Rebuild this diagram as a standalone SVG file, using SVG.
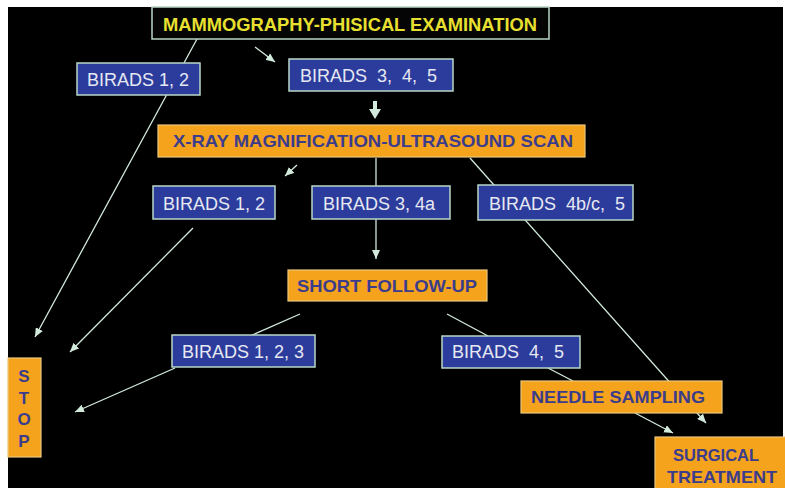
<svg xmlns="http://www.w3.org/2000/svg" width="785" height="488" viewBox="0 0 785 488">
  <style>
    .blue { fill: #2c3c9c; stroke: #b9d6c6; stroke-width: 1.5; }
    .orange { fill: #f5a21c; stroke: #e9c77a; stroke-width: 1.2; }
    .title { fill: #050505; stroke: #b9d6c6; stroke-width: 1.5; }
    .bt { font-family: "Liberation Sans", Arial, sans-serif; font-size: 18px; fill: #e6e8f2; }
    .ot { font-family: "Liberation Sans", Arial, sans-serif; font-size: 17px; font-weight: bold; fill: #3b3d8c; }
    .tt { font-family: "Liberation Sans", Arial, sans-serif; font-size: 18px; font-weight: bold; fill: #e8e030; }
    .edge { fill: none; stroke: #d2eadc; stroke-width: 1.3; marker-end: url(#ah); }
    .plain { fill: none; stroke: #d2eadc; stroke-width: 1.3; }
  </style>
  <defs>
    <marker id="ah" markerUnits="userSpaceOnUse" markerWidth="10" markerHeight="8" refX="9" refY="4" orient="auto">
      <path d="M0,0 L9,4 L0,8 Z" fill="#d2eadc"/>
    </marker>
  </defs>

  <!-- page -->
  <rect x="0" y="0" width="785" height="488" fill="#ffffff"/>
  <rect x="8" y="7" width="775" height="481" fill="#000000"/>

  <!-- connectors -->
  <g id="connectors">
    <line class="edge" x1="197" y1="39" x2="35" y2="337"/>
    <line class="edge" x1="255" y1="47" x2="275" y2="62"/>
    <path d="M373,101 L377,101 L377,109 L381,109 L375,119 L369,109 L373,109 Z" fill="#d2eadc"/>
    <line class="edge" x1="297" y1="165" x2="285" y2="176"/>
    <line class="plain" x1="376" y1="158" x2="376" y2="186"/>
    <line class="edge" x1="470" y1="158" x2="706" y2="423"/>
    <line class="edge" x1="193" y1="228" x2="70" y2="352"/>
    <line class="edge" x1="376" y1="219" x2="376" y2="259"/>
    <line class="plain" x1="300" y1="314" x2="250" y2="336"/>
    <line class="edge" x1="175" y1="368" x2="75" y2="412"/>
    <line class="plain" x1="447" y1="314" x2="488" y2="336"/>
    <line class="plain" x1="548" y1="368" x2="573" y2="381"/>
    <line class="edge" x1="635" y1="413" x2="673" y2="433"/>
  </g>

  <!-- nodes -->
  <g id="exam">
    <rect class="title" x="152" y="7" width="397" height="32"/>
    <text class="tt" x="163" y="31" textLength="374" lengthAdjust="spacingAndGlyphs">MAMMOGRAPHY-PHISICAL EXAMINATION</text>
  </g>
  <g id="birads-12-top">
    <rect class="blue" x="77" y="63" width="123" height="32"/>
    <text class="bt" x="87" y="86">BIRADS 1, 2</text>
  </g>
  <g id="birads-345">
    <rect class="blue" x="289" y="59" width="164" height="32"/>
    <text class="bt" x="300" y="82" xml:space="preserve">BIRADS  3,  4,  5</text>
  </g>
  <g id="xray">
    <rect class="orange" x="158" y="125" width="427" height="32"/>
    <text class="ot" x="173" y="147" textLength="400" lengthAdjust="spacingAndGlyphs">X-RAY MAGNIFICATION-ULTRASOUND SCAN</text>
  </g>
  <g id="birads-12-mid">
    <rect class="blue" x="153" y="186" width="122" height="33"/>
    <text class="bt" x="163" y="210">BIRADS 1, 2</text>
  </g>
  <g id="birads-34a">
    <rect class="blue" x="312" y="186" width="138" height="33"/>
    <text class="bt" x="323" y="210">BIRADS 3, 4a</text>
  </g>
  <g id="birads-4bc5">
    <rect class="blue" x="478" y="185" width="155" height="35"/>
    <text class="bt" x="489" y="210" xml:space="preserve">BIRADS  4b/c,  5</text>
  </g>
  <g id="follow-up">
    <rect class="orange" x="288" y="270" width="199" height="31"/>
    <text class="ot" x="297" y="292" textLength="180" lengthAdjust="spacingAndGlyphs">SHORT FOLLOW-UP</text>
  </g>
  <g id="birads-123">
    <rect class="blue" x="172" y="335" width="143" height="32"/>
    <text class="bt" x="182" y="358">BIRADS 1, 2, 3</text>
  </g>
  <g id="birads-45">
    <rect class="blue" x="442" y="336" width="138" height="32"/>
    <text class="bt" x="452" y="358" xml:space="preserve">BIRADS  4,  5</text>
  </g>
  <g id="stop">
    <rect class="orange" x="8" y="358" width="33" height="99"/>
    <text class="ot" x="24" y="382" text-anchor="middle">S</text>
    <text class="ot" x="24" y="404" text-anchor="middle">T</text>
    <text class="ot" x="24" y="425" text-anchor="middle">O</text>
    <text class="ot" x="24" y="447" text-anchor="middle">P</text>
  </g>
  <g id="needle">
    <rect class="orange" x="521" y="381" width="201" height="32"/>
    <text class="ot" x="531" y="403" textLength="174" lengthAdjust="spacingAndGlyphs">NEEDLE SAMPLING</text>
  </g>
  <g id="surgery">
    <rect class="orange" x="655" y="437" width="132" height="55"/>
    <text class="ot" x="673" y="461" textLength="86" lengthAdjust="spacingAndGlyphs">SURGICAL</text>
    <text class="ot" x="667" y="483" textLength="110" lengthAdjust="spacingAndGlyphs">TREATMENT</text>
  </g>
</svg>
